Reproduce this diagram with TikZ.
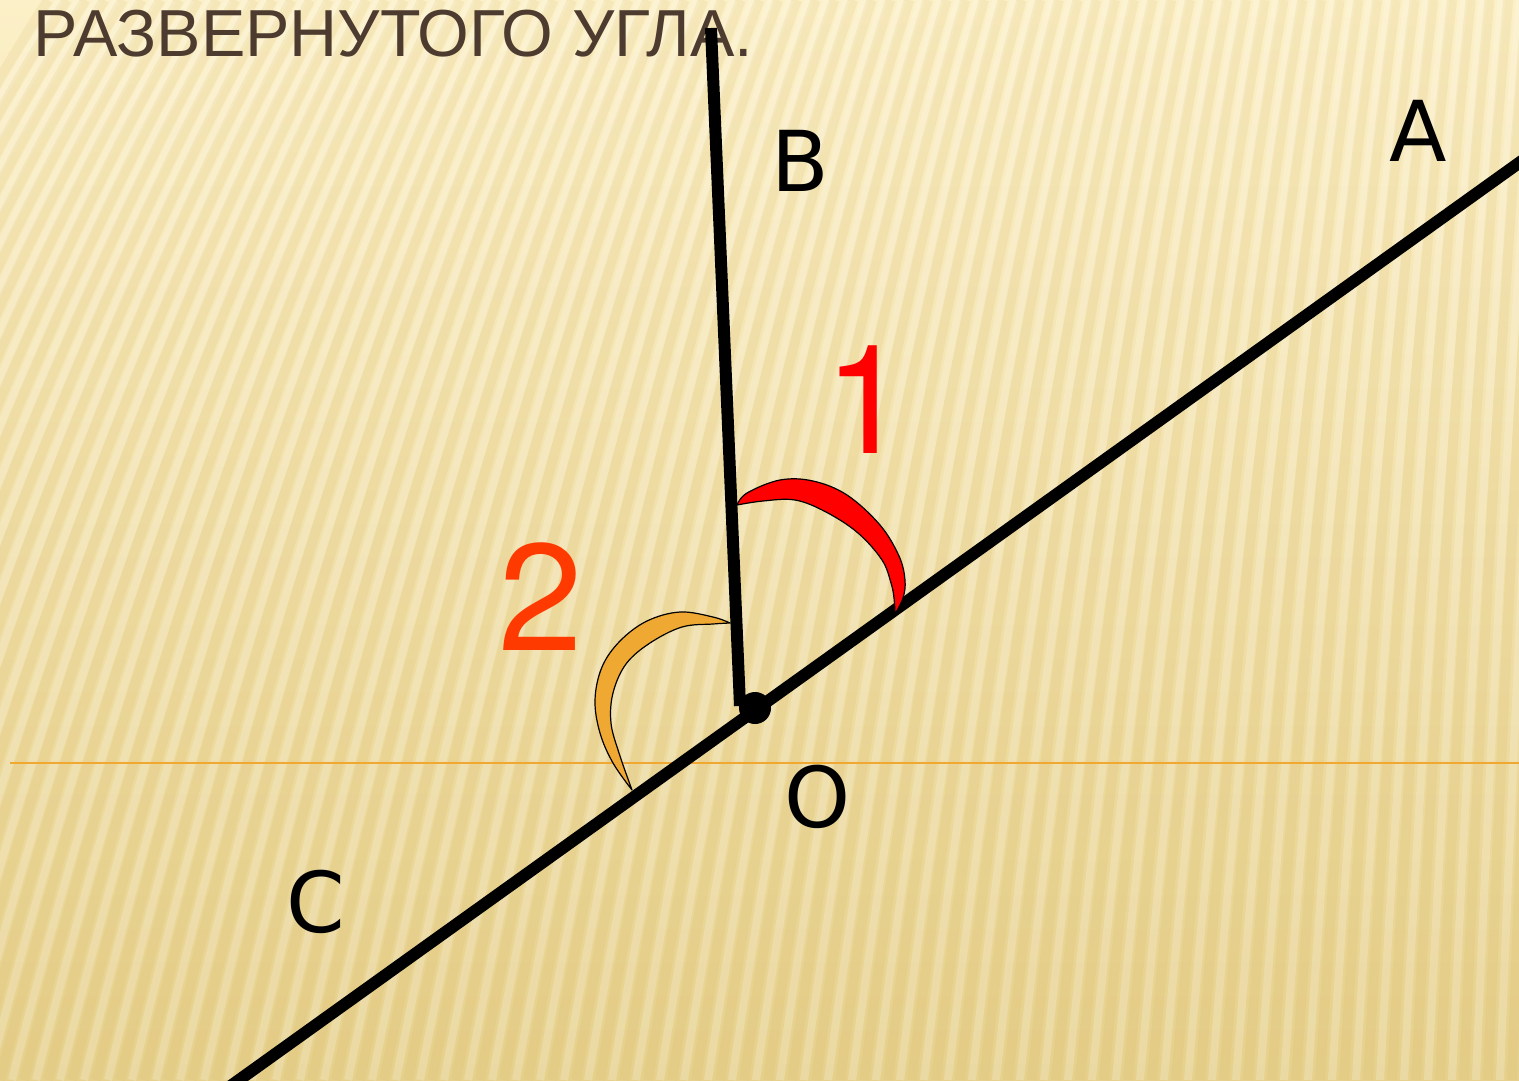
\documentclass[tikz,border=0pt]{standalone}
\usepackage{fontspec}
\setmainfont{Liberation Sans}
\newfontfamily\labelfont{DejaVu Sans}
\newfontfamily\digitfont{TeX Gyre Heros}
\definecolor{bgtop}{HTML}{FCF0C8}
\definecolor{bgmid}{HTML}{F8E8B4}
\definecolor{bgbot}{HTML}{E6D08C}
\definecolor{stripedark}{HTML}{D4B45E}
\definecolor{titlecol}{HTML}{4D3B2F}
\definecolor{hline}{HTML}{F0A830}
\definecolor{arcred}{HTML}{FF0000}
\definecolor{arcorange}{HTML}{EFA832}
\definecolor{numtwo}{HTML}{FF3A00}
\tikzset{
  stripe/.style={draw=stripedark, line width=10, opacity=0.14},
  shine/.style={draw=white, line width=8, opacity=0.2},
  ray/.style={draw=black, line width=12, line cap=butt},
  crescent/.style={draw=black, line width=1.2, line join=round},
  ptlabel/.style={font=\labelfont\fontsize{84}{84}\selectfont, inner sep=0, text=black},
  anglenum/.style={font=\digitfont\fontsize{152}{152}\selectfont, inner sep=0},
}
\begin{document}
\begin{tikzpicture}[x=1pt,y=-1pt]
\path[use as bounding box] (0,0) rectangle (1519,1080);
% background
\shade[top color=bgtop, middle color=bgmid, bottom color=bgbot] (0,0) rectangle (1519,1080);
\begin{scope}
\clip (0,0) rectangle (1519,1080);
\foreach \i in {-18,...,66} {
  \pgfmathsetmacro\bx{\i*24}
  \pgfmathsetmacro\a{0.22*(1750-\bx)}
  \draw[stripe] (\bx,1080) .. controls (\bx+0.25*\a,700) and (\bx+0.6*\a,300) .. (\bx+\a,0);
  \draw[shine] (\bx+12,1080) .. controls (\bx+12+0.25*\a,700) and (\bx+12+0.6*\a,300) .. (\bx+12+\a,0);
}
\end{scope}
% orange horizontal line
\coordinate (hl) at (10,763);
\coordinate (hr) at (1519,763);
\draw[hline, line width=2] (hl) -- (hr);
% title
\node[anchor=base west, inner sep=0, text=titlecol, font=\fontsize{66.5}{66.5}\selectfont] (title) at (33,56) {РАЗВЕРНУТОГО УГЛА.};
% points
\coordinate (O) at (755,708);
\coordinate (Aend) at (1530,155);
\coordinate (Cend) at (225,1090);
\coordinate (Bend) at (711,28);
\coordinate (Bfoot) at (740,706);
\begin{scope}
\clip (0,0) rectangle (1519,1080);
\draw[ray] (Cend) -- (Aend);
\end{scope}
\draw[ray] (Bfoot) -- (Bend);
% angle 1 (red)
\filldraw[crescent, fill=arcred]
  plot[smooth, tension=0.6] coordinates {(737,505) (747,493) (780,480) (813,481) (847,495) (880,525) (899,556) (905,580) (903,598) (895,614)}
  -- plot[smooth, tension=0.6] coordinates {(895,614) (894,598) (891,583) (882,560) (858,533) (826,512) (795,500) (763,501) (737,505)}
  -- cycle;
% angle 2 (orange)
\filldraw[crescent, fill=arcorange]
  plot[smooth, tension=0.6] coordinates {(730,623) (713,617) (680,612) (647,621) (620,641) (602,667) (595,700) (600,733) (613,763) (632,790)}
  -- plot[smooth, tension=0.6] coordinates {(632,790) (619,753) (611,723) (613,693) (626,664) (650,643) (682,627) (713,624) (730,623)}
  -- cycle;
% vertex dot
\fill[black] (O) circle[radius=16pt];
% labels
\node[ptlabel] (lA) at (1418,131) {A};
\node[ptlabel] (lB) at (800,161) {B};
\node[ptlabel] (lC) at (316,902) {C};
\node[ptlabel] (lO) at (818,797) {O};
\node[anglenum, text=arcred] (n1) at (867,400) {1};
\node[anglenum, text=numtwo] (n2) at (541,597) {2};
\end{tikzpicture}
\end{document}
